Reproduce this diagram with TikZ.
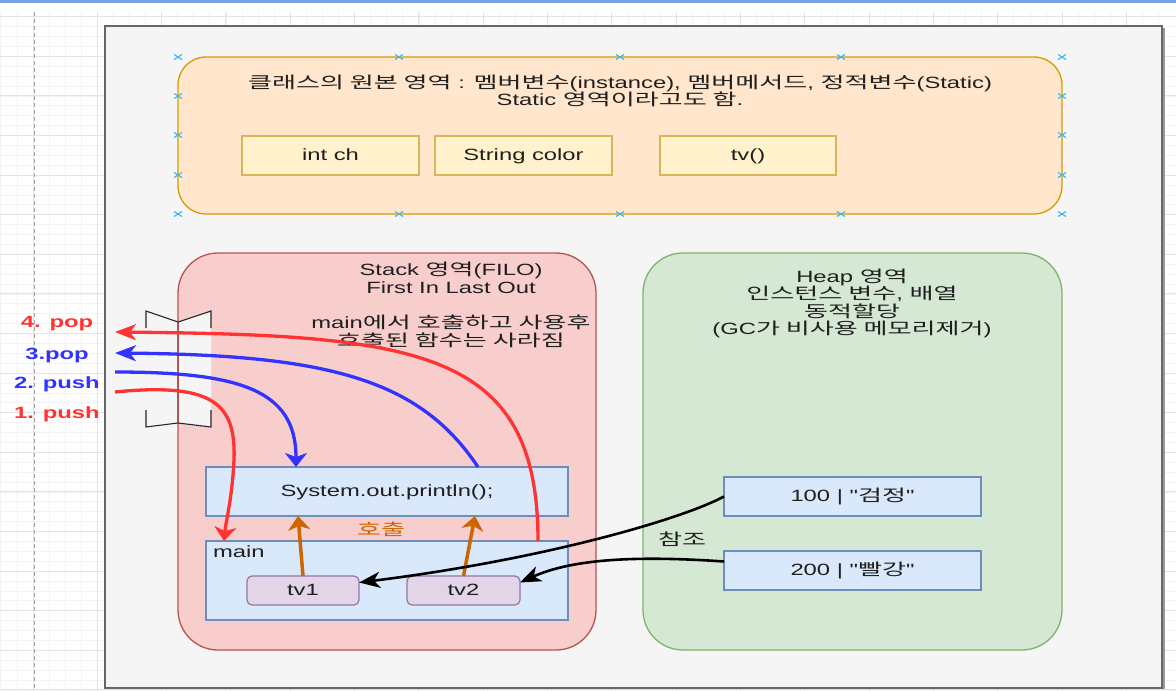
\documentclass[tikz,border=0pt]{standalone}
\usepackage{fontspec}
\setmainfont{Liberation Sans}[FakeStretch=1.46]
\newfontfamily\plainq{Liberation Sans}[FakeStretch=1.46]
\newfontfamily\kr{Noto Sans CJK KR}[FakeStretch=1.6]
\newcommand{\dq}{{\plainq\symbol{34}}}
\usetikzlibrary{arrows.meta,calc}
\definecolor{ink}{HTML}{1F1F1F}
\definecolor{cont}{HTML}{F5F5F5}
\definecolor{contbd}{HTML}{666666}
\definecolor{orf}{HTML}{FFE6CC}
\definecolor{ord}{HTML}{D79B00}
\definecolor{ybf}{HTML}{FFF2CC}
\definecolor{ybd}{HTML}{D6B656}
\definecolor{stf}{HTML}{F8CECC}
\definecolor{std}{HTML}{B85450}
\definecolor{hpf}{HTML}{D5E8D4}
\definecolor{hpd}{HTML}{82B366}
\definecolor{bbf}{HTML}{DAE8FC}
\definecolor{bbd}{HTML}{6C8EBF}
\definecolor{pbf}{HTML}{E1D5E7}
\definecolor{pbd}{HTML}{9673A6}
\definecolor{redc}{HTML}{FF3333}
\definecolor{bluec}{HTML}{3333FF}
\definecolor{orc}{HTML}{CC6600}
\definecolor{hcol}{HTML}{3FB4EF}
\definecolor{gmin}{HTML}{F3F3F3}
\definecolor{gmaj}{HTML}{E3E3E3}
\definecolor{topbar}{HTML}{74A0E6}
\tikzset{
  txt/.style={font=\fontsize{16.3}{17.6}\selectfont, text=ink, inner sep=0pt, outer sep=0pt, align=center},
  one/.style={text height=14pt, text depth=3.6pt},
  lbl/.style={txt, one, font=\fontsize{16.3}{17.6}\selectfont\bfseries},
  ybox/.style={txt, one, draw=ybd, fill=ybf, line width=1.2pt, minimum width=177pt, minimum height=39pt},
  bbox/.style={txt, one, draw=bbd, fill=bbf, line width=1.2pt},
  pbox/.style={txt, one, draw=pbd, fill=pbf, line width=1.2pt, rounded corners=5pt, minimum width=112pt, minimum height=29pt},
  region/.style={txt, line width=1.3pt, rounded corners=40pt},
  harrow/.style={-{Stealth[length=21pt,width=16pt,inset=6pt]}},
  varrow/.style={-{Stealth[length=14pt,width=22pt,inset=4pt]}},
  handle/.style={draw=hcol, line width=1.1pt},
  brk/.style={draw=black!85, line width=1.1pt},
}
\begin{document}
\begin{tikzpicture}[x=1pt,y=-1pt]
\useasboundingbox (0,0) rectangle (1176,691);
% background and grid
\fill[white] (0,0) rectangle (1176,691);
\foreach \i in {0,...,72} {
  \pgfmathsetmacro\gx{0.84+16.08*\i}
  \draw[gmin, line width=0.8pt] (\gx,12) -- (\gx,691);
}
\foreach \i in {0,...,68} {
  \pgfmathsetmacro\gy{16.7+9.9*\i}
  \draw[gmin, line width=0.8pt] (0,\gy) -- (1176,\gy);
}
\foreach \i in {0,...,17} {
  \pgfmathsetmacro\gx{33.0+64.33*\i}
  \draw[gmaj, line width=1pt] (\gx,12) -- (\gx,691);
}
\foreach \i in {0,...,17} {
  \pgfmathsetmacro\gy{16.7+39.6*\i}
  \draw[gmaj, line width=1pt] (0,\gy) -- (1176,\gy);
}
\draw[black!35, line width=1pt, dash pattern=on 4pt off 3pt] (34,12) -- (34,691);
\fill[topbar] (0,0) rectangle (1176,2.5);
% container
\node[draw=contbd, fill=cont, line width=1.3pt, minimum width=1057pt, minimum height=662pt, inner sep=0pt] (container) at (633.5,357) {};
\draw[black!40, line width=2pt] (1164,28) -- (1164,689);
% class area
\node[txt, draw=ord, fill=orf, line width=1.3pt, rounded corners=28pt, minimum width=884pt, minimum height=157pt] (classarea) at (620,135.5) {};
\node[txt] (classtitle) at (620,91) {{\kr 클래스의 원본 영역} : {\kr 멤버변수}(instance), {\kr 멤버메서드}, {\kr 정적변수}(Static)\\Static {\kr 영역이라고도 함}.};
\node[ybox] (intch) at (330.5,155.5) {int ch};
\node[ybox] (strcolor) at (523.5,155.5) {String color};
\node[ybox, minimum width=176pt] (tvm) at (748,155.5) {tv()};
\foreach \hx/\hy in {178/57,178/96,178/135,178/175,178/214,1062/57,1062/96,1062/135,1062/175,1062/214,399/57,620/57,841/57,399/214,620/214,841/214} {
  \draw[handle] (\hx-4,\hy-2.5) -- (\hx+4,\hy+2.5) (\hx-4,\hy+2.5) -- (\hx+4,\hy-2.5);
}
% stack and heap
\node[region, draw=std, fill=stf, minimum width=418pt, minimum height=397pt] (stack) at (387,451.5) {};
\node[region, draw=hpd, fill=hpf, minimum width=419pt, minimum height=397pt] (heap) at (852.5,451.5) {};
\node[txt] (stacktitle) at (451,305) {Stack {\kr 영역}(FILO)\\First In Last Out\\[17.6pt]main{\kr 에서 호출하고 사용후}\\{\kr 호출된 함수는 사라짐}};
\node[txt] (heaptitle) at (852,303.5) {Heap {\kr 영역}\\{\kr 인스턴스 변수}, {\kr 배열}\\{\kr 동적할당}\\(GC{\kr 가 비사용 메모리제거})};
% stack contents
\node[bbox, minimum width=362pt, minimum height=49pt] (println) at (387,491.5) {System.out.println();};
\node[bbox, minimum width=362pt, minimum height=79pt] (mainbox) at (387,580.5) {};
\node[txt, one, anchor=west] (mainlbl) at (213,552) {main};
\node[pbox] (tv1) at (303,590.5) {tv1};
\node[pbox, minimum width=113pt] (tv2) at (463.5,590.5) {tv2};
\node[txt, one, text=orc] (calllbl) at (381,530) {\kr 호출};
% heap contents
\node[bbox, minimum width=257pt, minimum height=39pt] (h100) at (852.5,496.5) {100 | \dq{\kr 검정}\dq};
\node[bbox, minimum width=257pt, minimum height=39pt] (h200) at (852.5,570.5) {200 | \dq{\kr 빨강}\dq};
\node[txt, one] (reflbl) at (682,540) {\kr 참조};
% break shape
\fill[cont] (146,311) -- (178,322) -- (211,311) -- (211,427) -- (178,423) -- (146,427) -- cycle;
\draw[std, line width=1.3pt] (178,322) -- (178,423);
\draw[brk] (146,328) -- (146,311) -- (178,322) -- (211,311) -- (211,328);
\draw[brk] (146,410) -- (146,427) -- (178,423) -- (211,427) -- (211,410);
% left labels and free ends
\node[lbl, text=redc] (l4) at (57,322) {4. pop};
\node[lbl, text=bluec] (l3) at (57,354) {3.pop};
\node[lbl, text=bluec] (l2) at (57,383) {2. push};
\node[lbl, text=redc] (l1) at (57,413) {1. push};
\coordinate (pop4end) at (115,332);
\coordinate (pop3end) at (115,353);
\coordinate (push2start) at (115,372);
\coordinate (push1start) at (115,392);
% orange call arrows
\draw[orc, line width=3.5pt, varrow] (tv1.north) -- ($(println.south west)+(92,0)$);
\draw[orc, line width=3.5pt, varrow] (tv2.north) -- ($(println.south west)+(269,0)$);
% reference arrows
\draw[black, line width=2.6pt, harrow] (h100.west) .. controls (680,520) and (540,560) .. ([yshift=8pt]tv1.east);
\draw[black, line width=2.6pt, harrow] ([yshift=9pt]h200.west) .. controls (630,555) and (570,560) .. ([yshift=8pt]tv2.east);
% push / pop arrows
\draw[redc, line width=3.3pt, harrow] ($(mainbox.north east)+(-30,0)$) .. controls (538,350) and (420,335) .. (pop4end);
\draw[bluec, line width=3.3pt, harrow] ($(println.north west)+(272,0)$) .. controls (420,380) and (330,355) .. (pop3end);
\draw[bluec, line width=3.3pt, varrow] (push2start) .. controls (240,372) and (296,390) .. ($(println.north west)+(90,0)$);
\draw[redc, line width=3.3pt, varrow] (push1start) .. controls (215,382) and (236,405) .. (234,460) .. controls (232,500) and (226,520) .. ($(mainbox.north west)+(18,0)$);
\end{tikzpicture}
\end{document}
